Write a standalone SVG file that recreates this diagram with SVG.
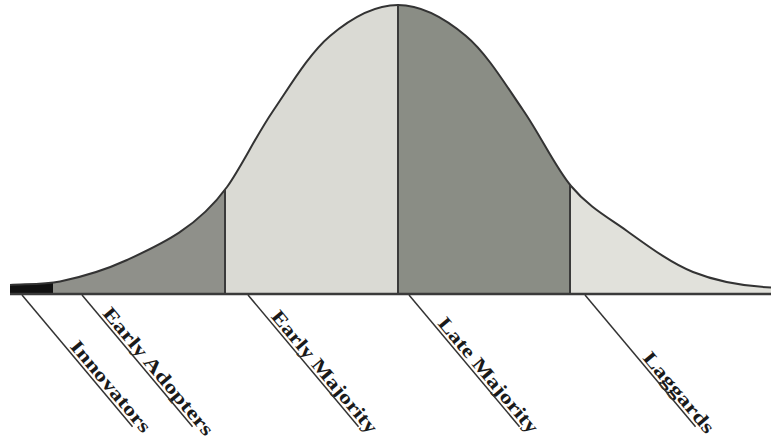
<svg xmlns="http://www.w3.org/2000/svg" width="771" height="437" viewBox="0 0 771 437">
<defs>
<style>
.curve{fill:none;stroke:#333;stroke-width:2}
.div{stroke:#3a3a3a;stroke-width:2}
.base{stroke:#3a3a3a;stroke-width:2.5}
.lead{stroke:#333;stroke-width:1.5}
.lbl{font-family:"Liberation Serif","DejaVu Serif",serif;font-weight:bold;font-size:19px;fill:#1a1a1a}
</style>
<clipPath id="bell"><path d="M10,285 C27,284 44,284.5 60,281.5 C79.5,277.5 104.83,270.17 127,260 C160,244.8 197,228.3 227,187 C240.33,168.67 255.83,136.17 273,111 C290.17,85.83 309.17,53.67 330,36 C350.83,18.33 375.33,5 398,5 C420.67,5 445.17,18.5 466,36 C486.83,53.5 505.5,84.67 523,110 C540.5,135.33 555,166.8 571,186 C589,207.6 609,218 627,231 C649,246.8 671,263.2 693,272 C719,282.4 745,286.2 771,287.5 L771,294 L10,294 Z"/></clipPath>
</defs>
<rect width="771" height="437" fill="#ffffff"/>
<g id="innovators">
<rect x="10" y="0" width="43" height="295" fill="#111111" clip-path="url(#bell)"/>
<text class="lbl" transform="translate(22,295) rotate(50)" x="70" y="-3" textLength="114" lengthAdjust="spacingAndGlyphs">Innovators</text>
</g>
<g id="early-adopters">
<rect x="53" y="0" width="172" height="295" fill="#8f908a" clip-path="url(#bell)"/>
<text class="lbl" transform="translate(82,295) rotate(50)" x="27" y="-3" textLength="161" lengthAdjust="spacingAndGlyphs">Early Adopters</text>
</g>
<g id="early-majority">
<rect x="225" y="0" width="173" height="295" fill="#dadad4" clip-path="url(#bell)"/>
<text class="lbl" transform="translate(248,295) rotate(50)" x="31" y="-3" textLength="154" lengthAdjust="spacingAndGlyphs">Early Majority</text>
</g>
<g id="late-majority">
<rect x="398" y="0" width="172" height="295" fill="#8a8d85" clip-path="url(#bell)"/>
<text class="lbl" transform="translate(409,295) rotate(50)" x="40" y="-3" textLength="145" lengthAdjust="spacingAndGlyphs">Late Majority</text>
</g>
<g id="laggards">
<rect x="570" y="0" width="201" height="295" fill="#e1e1db" clip-path="url(#bell)"/>
<text class="lbl" transform="translate(585,295) rotate(50)" x="85" y="-3" textLength="100" lengthAdjust="spacingAndGlyphs">Laggards</text>
</g>
<g id="outline">
<path class="curve" d="M10,285 C27,284 44,284.5 60,281.5 C79.5,277.5 104.83,270.17 127,260 C160,244.8 197,228.3 227,187 C240.33,168.67 255.83,136.17 273,111 C290.17,85.83 309.17,53.67 330,36 C350.83,18.33 375.33,5 398,5 C420.67,5 445.17,18.5 466,36 C486.83,53.5 505.5,84.67 523,110 C540.5,135.33 555,166.8 571,186 C589,207.6 609,218 627,231 C649,246.8 671,263.2 693,272 C719,282.4 745,286.2 771,287.5"/>
<line class="div" x1="225" y1="190" x2="225" y2="294"/>
<line class="div" x1="398" y1="5" x2="398" y2="294"/>
<line class="div" x1="570" y1="185" x2="570" y2="294"/>
<line class="base" x1="10" y1="294" x2="771" y2="294"/>
</g>
<g id="connectors">
<line class="lead" transform="translate(22,295) rotate(50)" x1="0" y1="0" x2="172" y2="0"/>
<line class="lead" transform="translate(82,295) rotate(50)" x1="0" y1="0" x2="172" y2="0"/>
<line class="lead" transform="translate(248,295) rotate(50)" x1="0" y1="0" x2="172" y2="0"/>
<line class="lead" transform="translate(409,295) rotate(50)" x1="0" y1="0" x2="172" y2="0"/>
<line class="lead" transform="translate(585,295) rotate(50)" x1="0" y1="0" x2="172" y2="0"/>
</g>
</svg>
